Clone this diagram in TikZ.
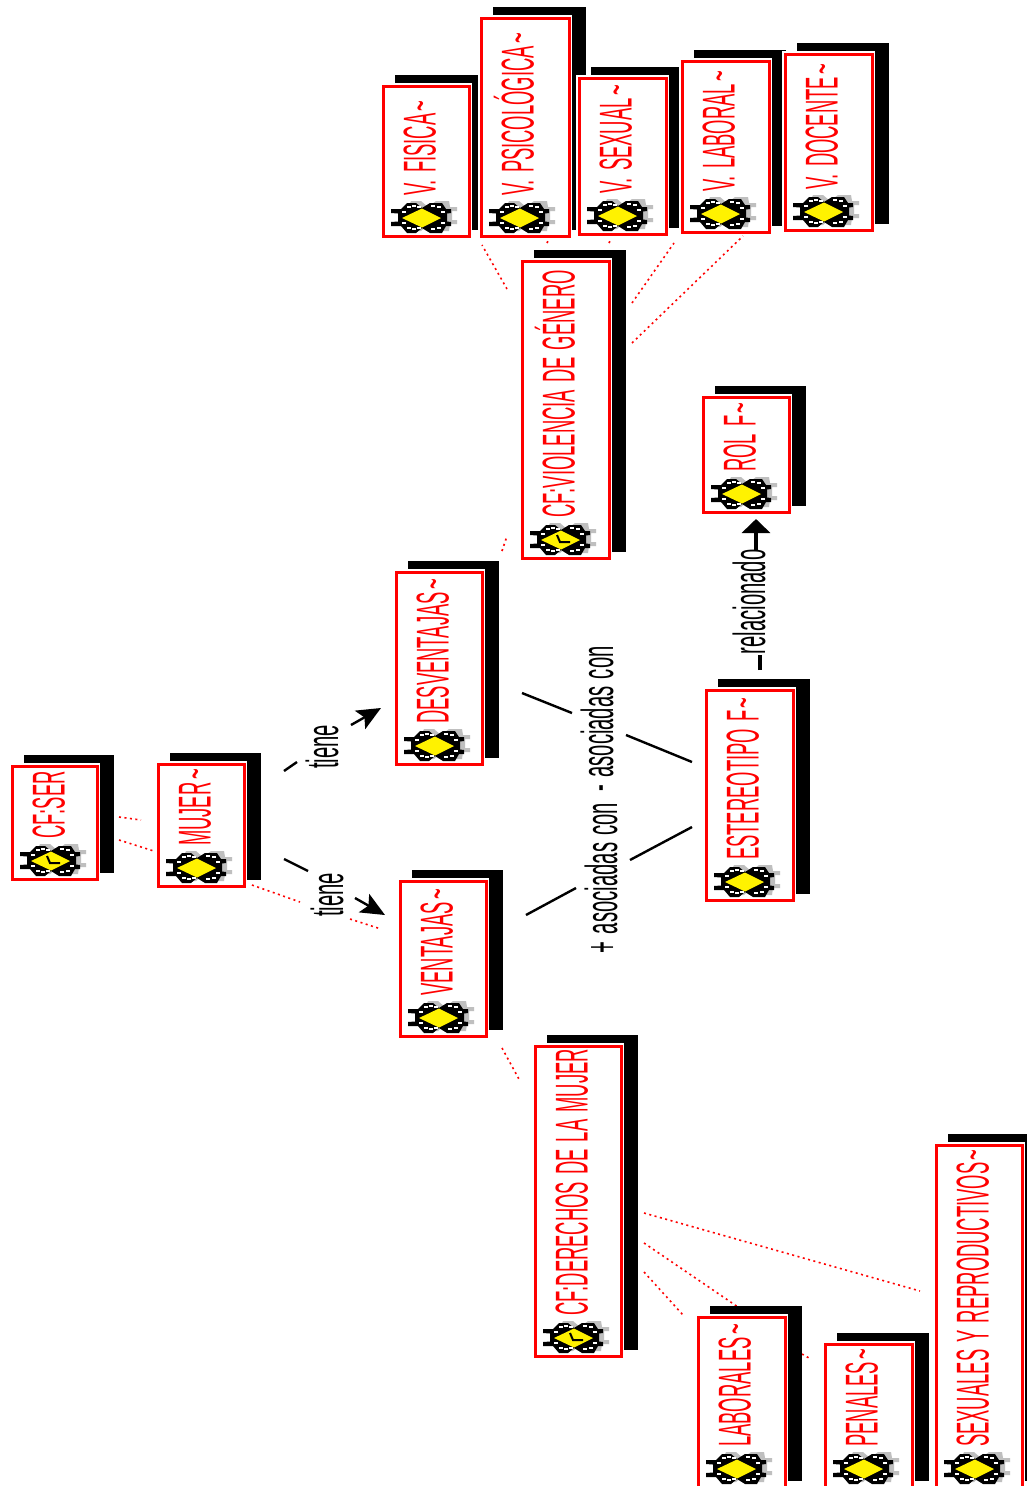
\documentclass[tikz,border=0pt]{standalone}
\usepackage{fontspec}
\usetikzlibrary{shadows,arrows.meta}
\setmainfont{Liberation Sans}
\newfontfamily\rotulofont{Liberation Sans}[FakeStretch=0.40,WordSpace=1.4]
\newfontfamily\etiquetafont{Liberation Sans}[FakeStretch=0.45,WordSpace=1.3]
\newcommand{\tildita}{\kern2.5pt\textasciitilde}

\tikzset{
 icono/.pic={
  \fill[black!25, shift={(6,-2)}] (-24,-8)--(-20,-8)--(-17,-15)--(-7,-15)--(0,-9)--(8,-15)--(21,-15)--(22,-9)--(29,-9)--(29,-5)--(24,-5)--(24,4)--(29,4)--(29,8)--(22,8)--(21,15)--(8,15)--(0,9)--(-7,15)--(-17,15)--(-20,8)--cycle;
  \fill[black] (-31,-9)--(-21,-9)--(-15,-15)--(-6,-15)--(0,-10)--(8,-15)--(20,-15)--(24,-9)--(29,-9)--(29,-5)--(25,-4.5)--(25,3.5)--(29,4)--(29,8)--(24,8)--(20,15)--(8,15)--(0,10)--(-6,15)--(-15,15)--(-21,8)--(-31,8)--(-31,4)--(-24,3.5)--(-24,-4.5)--(-31,-5)--cycle;
  \foreach \a/\b in {-13/-11,-8/-12,-18/-6,-18/5,-13/10,-8/11,-3/-11,-3/10,11/-12,17/-11,21/-6,11/11,17/10,21/5}
   \fill[white] (\a-1.8,\b-1.2) rectangle (\a+1.8,\b+1.2);
  \fill[yellow] (-20,0)--(0,-9.5)--(19,0)--(0,9.5)--cycle;
 },
 iconocf/.pic={
  \pic {icono};
  \draw[black, line width=2pt] (-4,-5)--(-1,2)--(9,2);
 }
}

% caja con sombra, icono y rotulo: nombre, izquierda, abajo, ancho, alto, icono, texto
\newcommand{\concepto}[7]{
 \node[caja, minimum width={#4-2}, minimum height={#5-2}] (#1) at (#2+1,#3-1) {};
 \pic at ([shift={(39,-18)}]#1.south west) {#6};
 \node[rotulo] (#1R) at ([shift={(52.5,-40)}]#1.south west) {#7};
}

\begin{document}
\begin{tikzpicture}[x=1pt, y=-1pt]
 \tikzstyle{caja}=[anchor=south west, rectangle, outer sep=0, inner sep=0, draw=red, line width=3pt, fill=white,
  general shadow={fill=black, draw=black, line width=5pt, shadow xshift=14pt, shadow yshift=9pt},
  preaction={draw=white, line width=6pt}]
 \tikzstyle{rotulo}=[anchor=base west, rotate=90, inner sep=0, text=red, font=\fontsize{46}{46}\rotulofont]
 \tikzstyle{etiqueta}=[anchor=base, rotate=90, inner sep=0, text=black, font=\fontsize{45}{45}\etiquetafont]
 \tikzstyle{enlace}=[red, line width=1.6pt, dash pattern=on 2pt off 3.5pt]
 \tikzstyle{linea}=[black, line width=2.4pt]
 \tikzstyle{flecha}=[black, line width=2.4pt, -{Stealth[length=24pt, width=21pt, inset=5pt]}]
 \useasboundingbox (0,0) rectangle (1026,1486);
 %
 \coordinate (s1) at (119,817); \coordinate (s2) at (141,820);
 \coordinate (s3) at (119,840); \coordinate (s4) at (157,852);
 \coordinate (m1) at (252,885); \coordinate (m2) at (300,902);
 \coordinate (m3) at (350,919); \coordinate (m4) at (381,929);
 \coordinate (v1) at (502,1048); \coordinate (v2) at (520,1081);
 \coordinate (d1) at (502,551); \coordinate (d2) at (507,536);
 \coordinate (g1) at (507,289); \coordinate (g2) at (482,245);
 \coordinate (g3) at (547,243); \coordinate (g4) at (548,241);
 \coordinate (g5) at (609,243); \coordinate (g6) at (610,241);
 \coordinate (g7) at (632,303); \coordinate (g8) at (674,243);
 \coordinate (g9) at (632,343); \coordinate (g10) at (743,236);
 \coordinate (e1) at (644,1213); \coordinate (e2) at (920,1291);
 \coordinate (e3) at (644,1243); \coordinate (e4) at (738,1307);
 \coordinate (e5) at (802,1354); \coordinate (e6) at (809,1358);
 \coordinate (e7) at (644,1272); \coordinate (e8) at (683,1315);
 %%
 \draw[enlace] (s1)--(s2) (s3)--(s4);
 \draw[enlace] (m1)--(m2) (m3)--(m4);
 \draw[enlace] (v1)--(v2);
 \draw[enlace] (d1)--(d2);
 \draw[enlace] (g1)--(g2);
 \draw[enlace] (g3)--(g4);
 \draw[enlace] (g5)--(g6);
 \draw[enlace] (g7)--(g8);
 \draw[enlace] (g9)--(g10);
 \draw[enlace] (e1)--(e2);
 \draw[enlace] (e3)--(e4) (e5)--(e6);
 \draw[enlace] (e7)--(e8);
 %
 \concepto{Ser}{11}{880}{87}{115}{iconocf}{CF:SER}
 \concepto{Mujer}{157}{887}{88}{124}{icono}{MUJER\tildita}
 %
 \concepto{Desventajas}{395}{765}{88}{194}{icono}{DESVENTAJAS\tildita}
 \concepto{Ventajas}{399}{1037}{88}{157}{icono}{VENTAJAS\tildita}
 %
 \concepto{Fisica}{382}{237}{88}{152}{icono}{V. FISICA\tildita}
 \concepto{Psicologica}{480}{237}{90}{220}{icono}{V. PSICOLÓGICA\tildita}
 \concepto{Sexual}{578}{235}{89}{158}{icono}{V. SEXUAL\tildita}
 \concepto{Laboral}{681}{233}{89}{173}{icono}{V. LABORAL\tildita}
 \concepto{Docente}{784}{231}{89}{178}{icono}{V. DOCENTE\tildita}
 %
 \concepto{Violencia}{521}{559}{89}{299}{iconocf}{CF:VIOLENCIA DE GÉNERO}
 \concepto{Rol}{702}{513}{88}{117}{icono}{ROL F\tildita}
 \concepto{Estereotipo}{705}{901}{89}{212}{icono}{ESTEREOTIPO F\tildita}
 %
 \concepto{Derechos}{534}{1357}{88}{312}{iconocf}{CF:DERECHOS DE LA MUJER}
 \concepto{Laborales}{697}{1488}{89}{172}{icono}{LABORALES\tildita}
 \concepto{Penales}{824}{1488}{89}{145}{icono}{PENALES\tildita}
 \concepto{Sexuales}{935}{1488}{88}{344}{icono}{SEXUALES Y REPRODUCTIVOS\tildita}
 %%
 \node[etiqueta] (Tiene1) at (338,747) {tiene};
 \node[etiqueta] (Tiene2) at (343,895) {tiene};
 \node[etiqueta] (AsocMenos) at (613,719) {- asociadas con};
 \node[etiqueta] (AsocMas) at (617,878) {+ asociadas con};
 \node[etiqueta] (Relacionado) at (765,602) {relacionado};
 %
 \coordinate (t1) at (284,771); \coordinate (t2) at (297,762);
 \coordinate (t3) at (351,725); \coordinate (t4) at (381,708);
 \coordinate (t5) at (284,859); \coordinate (t6) at (308,871);
 \coordinate (t7) at (355,898); \coordinate (t8) at (385,915);
 \coordinate (a1) at (522,693); \coordinate (a2) at (572,713);
 \coordinate (a3) at (626,735); \coordinate (a4) at (692,762);
 \coordinate (a5) at (526,915); \coordinate (a6) at (576,888);
 \coordinate (a7) at (630,860); \coordinate (a8) at (692,827);
 \coordinate (r1) at (760,670); \coordinate (r2) at (760,655);
 \coordinate (r3) at (756,550); \coordinate (r4) at (756,519);
 %%
 \draw[linea] (t1)--(t2);
 \draw[flecha] (t3)--(t4);
 \draw[linea] (t5)--(t6);
 \draw[flecha] (t7)--(t8);
 \draw[linea] (a1)--(a2) (a3)--(a4);
 \draw[linea] (a5)--(a6) (a7)--(a8);
 \draw[line width=4pt] (r1)--(r2);
 \draw[line width=4pt, -{Triangle[length=14pt, width=28pt]}] (r3)--(r4);
\end{tikzpicture}
\end{document}
